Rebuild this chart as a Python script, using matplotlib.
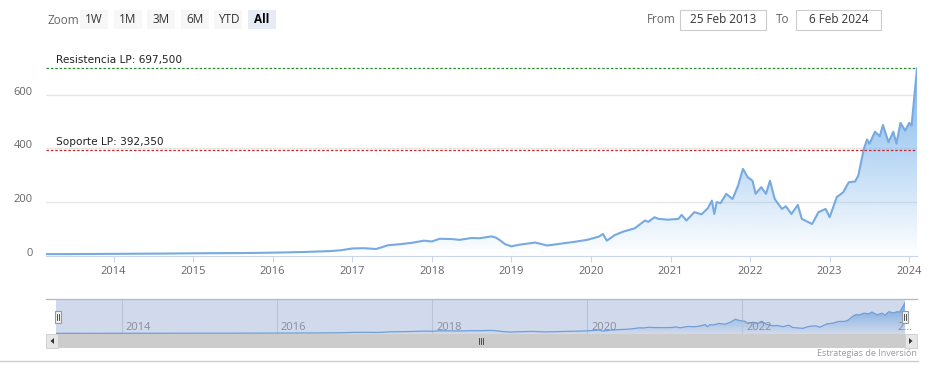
import numpy as np
import matplotlib
matplotlib.use('Agg')
import matplotlib.pyplot as plt
from matplotlib.patches import Rectangle, Polygon
from matplotlib.colors import to_rgb

# price history (decimal year, value)
years = [2013.151, 2013.4, 2013.7, 2014.0, 2014.3, 2014.6, 2015.0, 2015.3, 2015.6, 2015.9,
         2016.1, 2016.4, 2016.7, 2016.85, 2017.0, 2017.15, 2017.3, 2017.45, 2017.6, 2017.75,
         2017.9, 2018.0, 2018.1, 2018.25, 2018.35, 2018.5, 2018.6, 2018.75, 2018.8, 2018.85,
         2018.92, 2019.0, 2019.1, 2019.3, 2019.45, 2019.6, 2019.8, 2019.95, 2020.1, 2020.15,
         2020.2, 2020.3, 2020.41, 2020.55, 2020.68, 2020.72, 2020.8, 2020.85, 2020.97, 2021.1,
         2021.14, 2021.2, 2021.3, 2021.39, 2021.47, 2021.52, 2021.55, 2021.58, 2021.63, 2021.7,
         2021.78, 2021.85, 2021.91, 2021.97, 2022.03, 2022.07, 2022.14, 2022.2, 2022.25, 2022.31,
         2022.4, 2022.45, 2022.52, 2022.6, 2022.65, 2022.78, 2022.86, 2022.95, 2023.0, 2023.09,
         2023.17, 2023.24, 2023.32, 2023.36, 2023.43, 2023.47, 2023.5, 2023.57, 2023.63, 2023.67,
         2023.74, 2023.8, 2023.84, 2023.89, 2023.95, 2024.0, 2024.03, 2024.098]
prices = [7, 7, 7.5, 8, 8.5, 9, 10, 10.5, 11, 12,
          13, 15, 18, 21, 28, 29, 26, 40, 44, 49,
          57, 54, 64, 63, 60, 67, 66, 73, 69, 60,
          44, 36, 42, 50, 39, 45, 53, 60, 72, 82,
          57, 78, 91, 103, 132, 127, 144, 138, 135, 138,
          153, 132, 163, 155, 178, 206, 156, 200, 197, 231,
          212, 262, 324, 293, 280, 231, 256, 231, 280, 212,
          175, 185, 156, 190, 138, 119, 163, 175, 144, 219,
          237, 274, 277, 299, 398, 433, 417, 462, 445, 487,
          423, 462, 418, 495, 466, 495, 485, 697]

resistance = 697.5
support = 392.35
resistance_label = 'Resistencia LP: 697,500'
support_label = 'Soporte LP: 392,350'
y_ticks = [0, 200, 400, 600]
x_ticks = list(range(2014, 2025))
nav_ticks = [2014, 2016, 2018, 2020, 2022]
buttons = ['1W', '1M', '3M', '6M', 'YTD', 'All']
date_from = '25 Feb 2013'
date_to = '6 Feb 2024'

W, H = 934, 379
LINE = '#76aae0'
FILL = '#7cb5ec'
UI_FONT = 'Open Sans'


def fx(x):
    return x / W


def fy(y):
    return 1 - y / H


def add_axes_px(x0, y0, x1, y1):
    return fig.add_axes([fx(x0), fy(y1), (x1 - x0) / W, (y1 - y0) / H])


def gradient_area(ax, xs, ys, vmax):
    poly = ax.fill_between(xs, ys, 0, facecolor='none', edgecolor='none')
    rgb = to_rgb(FILL)
    grad = np.zeros((256, 1, 4))
    grad[:, 0, :3] = rgb
    grad[:, 0, 3] = np.linspace(0, 1, 256)
    im = ax.imshow(grad, extent=[xs[0], xs[-1], 0, vmax], aspect='auto',
                   origin='lower', zorder=1, interpolation='bilinear')
    im.set_clip_path(poly.get_paths()[0], ax.transData)


fig = plt.figure(figsize=(W / 100, H / 100), dpi=100)

# ---- main chart
ax = add_axes_px(46, 48, 917, 256)
gradient_area(ax, years, prices, max(prices))
ax.plot(years, prices, color=LINE, lw=1.5, zorder=3, solid_joinstyle='round')
ax.set_xlim(years[0], years[-1])
ax.set_ylim(0, 208 / 0.269)

for v in y_ticks[1:]:
    ax.axhline(v, color='#e6e6e6', lw=1, zorder=0)
ax.axhline(resistance, color='#2e8b2e', lw=0.9, ls=(0, (2, 1.5)), zorder=4)
ax.axhline(support, color='#c0282d', lw=0.9, ls=(0, (2, 1.5)), zorder=4)
ax.annotate(resistance_label, (0, resistance), xycoords=('axes fraction', 'data'),
            xytext=(10, 3), textcoords='offset pixels', fontsize=7.6, color='#222222',
            family='DejaVu Sans', va='bottom')
ax.annotate(support_label, (0, support), xycoords=('axes fraction', 'data'),
            xytext=(10, 3), textcoords='offset pixels', fontsize=7.6, color='#222222',
            family='DejaVu Sans', va='bottom')

for s in ['top', 'right', 'left']:
    ax.spines[s].set_visible(False)
ax.spines['bottom'].set_color('#ccd6eb')
ax.set_xticks(x_ticks)
ax.set_xticklabels([str(t) for t in x_ticks], fontsize=8, color='#666666', family=UI_FONT)
ax.tick_params(axis='x', length=4, color='#ccd6eb', pad=3)
ax.set_yticks(y_ticks)
ax.set_yticklabels([str(t) for t in y_ticks], fontsize=8, color='#666666', family=UI_FONT,
                   va='baseline')
ax.tick_params(axis='y', length=0, pad=9.4)

# ---- navigator
nav = add_axes_px(56, 299, 905, 334)
gradient_area(nav, years, prices, max(prices))
nav.plot(years, prices, color=LINE, lw=0.9, zorder=3)
nav.set_xlim(years[0], years[-1])
nav.set_ylim(-8, 780)
nav.add_patch(Rectangle((0, 0), 1, 1, transform=nav.transAxes,
                        facecolor=(102 / 255, 133 / 255, 194 / 255, 0.3), edgecolor='none', zorder=4))
for t in nav_ticks:
    nav.axvline(t, color='#e0e0e0', lw=0.8, zorder=2)
    nav.text(t + 0.05, 0.2, str(t), transform=nav.get_xaxis_transform(), fontsize=8,
             color='#8a8c99', family=UI_FONT, va='center', ha='left', zorder=5)
nav.text(2024.0, 0.2, '2…', transform=nav.get_xaxis_transform(), fontsize=8,
         color='#8a8c99', family=UI_FONT, va='center', ha='left', zorder=5, clip_on=False)
nav.axis('off')

# navigator outline and handles
fig.add_artist(plt.Line2D([fx(46), fx(917)], [fy(299), fy(299)], color='#b2b6c2', lw=0.9))
for hx in (55, 902):
    fig.add_artist(Rectangle((fx(hx), fy(323)), 6 / W, 12 / H, facecolor='#f2f2f2',
                             edgecolor='#999999', lw=0.8))
    for dx in (2, 4):
        fig.add_artist(plt.Line2D([fx(hx + dx), fx(hx + dx)], [fy(320), fy(314)],
                                  color='#333333', lw=0.6))

# scrollbar
fig.add_artist(Rectangle((fx(46), fy(348)), 871 / W, 14 / H, facecolor='#f2f2f2', edgecolor='none'))
fig.add_artist(Rectangle((fx(58), fy(348)), 847 / W, 14 / H, facecolor='#cccccc', edgecolor='none'))
for bx in (46, 905):
    fig.add_artist(Rectangle((fx(bx), fy(348)), 12 / W, 14 / H, facecolor='#e6e6e6',
                             edgecolor='#cccccc', lw=0.6))
fig.add_artist(Polygon([[fx(54), fy(338)], [fx(54), fy(344)], [fx(50.5), fy(341)]],
                       closed=True, facecolor='#333333', edgecolor='none'))
fig.add_artist(Polygon([[fx(909), fy(338)], [fx(909), fy(344)], [fx(912.5), fy(341)]],
                       closed=True, facecolor='#333333', edgecolor='none'))
for rx in (479, 481, 483):
    fig.add_artist(plt.Line2D([fx(rx), fx(rx)], [fy(338), fy(344)], color='#333333', lw=0.6))

fig.add_artist(plt.Line2D([0, fx(918)], [fy(361), fy(361)], color='#c8cce0', lw=1))
fig.text(fx(917), fy(354), 'Estrategias de Inversión', fontsize=6.5, color='#999999',
         family=UI_FONT, ha='right', va='center')

# ---- range selector buttons
fig.text(fx(47), fy(20), 'Zoom', fontsize=8.5, color='#666666', family=UI_FONT, va='center')
for i, b in enumerate(buttons):
    bx = 80 + i * 33.6
    active = b == 'All'
    fig.add_artist(Rectangle((fx(bx), fy(29)), 28 / W, 19 / H,
                             facecolor='#e6ebf5' if active else '#f7f7f7', edgecolor='none'))
    fig.text(fx(bx + 14), fy(19.5), b, fontsize=8.5, family=UI_FONT, ha='center', va='center',
             color='#000000' if active else '#333333', weight='bold' if active else 'normal')

fig.text(fx(647), fy(19.5), 'From', fontsize=8.5, color='#666666', family=UI_FONT, va='center')
fig.text(fx(776), fy(19.5), 'To', fontsize=8.5, color='#666666', family=UI_FONT, va='center')
for (bx0, bx1, label) in ((680, 766, date_from), (796, 881, date_to)):
    fig.add_artist(Rectangle((fx(bx0), fy(30)), (bx1 - bx0) / W, 20 / H, facecolor='white',
                             edgecolor='#cccccc', lw=0.8))
    fig.text(fx((bx0 + bx1) / 2), fy(19.5), label, fontsize=8.5, color='#333333',
             family=UI_FONT, ha='center', va='center')

fig.savefig('out.png', dpi=100)
